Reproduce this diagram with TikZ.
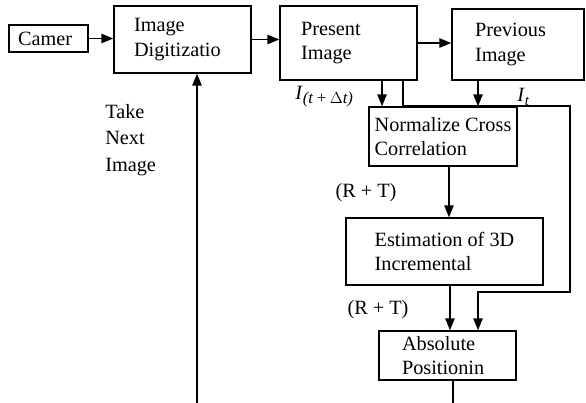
\documentclass[tikz,border=0pt]{standalone}
\usepackage{fontspec}
\setmainfont{Liberation Serif}
\usetikzlibrary{arrows.meta,calc}
\begin{document}
\begin{tikzpicture}[x=0.75pt,y=-0.75pt,
  font=\fontsize{15.2}{18.5}\selectfont,
  box/.style={draw,line width=1pt,align=left,inner ysep=1pt,inner xsep=0pt},
  arr/.style={line width=1.2pt,-{Triangle[length=9pt,width=7pt]}},
  ln/.style={line width=1.2pt},
  lbl/.style={inner sep=0pt,align=left}]
\useasboundingbox (0,0) rectangle (586,403);
% boxes
\node[box,minimum width=79*0.75pt,minimum height=27*0.75pt,text width=61*0.75pt] (cam) at (48.5,38.5) {Camer};
\node[box,minimum width=137*0.75pt,minimum height=67*0.75pt,text width=97*0.75pt] (dig) at (182.5,39.5) {Image\\Digitizatio};
\node[box,minimum width=137*0.75pt,minimum height=74*0.75pt,text width=95*0.75pt] (pres) at (348.5,43) {Present\\Image};
\node[box,minimum width=132*0.75pt,minimum height=71*0.75pt,text width=86*0.75pt] (prev) at (518,44.5) {Previous\\Image};
\node[box,minimum width=148*0.75pt,minimum height=59*0.75pt] (norm) at (443,136.5) {Normalize Cross\\Correlation};
\node[box,minimum width=197*0.75pt,minimum height=67*0.75pt] (est) at (444.5,251.5) {Estimation of 3D\\Incremental};
\node[box,minimum width=137*0.75pt,minimum height=49*0.75pt,text width=91*0.75pt] (abs) at (447.5,355.5) {Absolute\\Positionin};
% labels
\node[lbl,anchor=west,font=\fontsize{15.2}{19.9}\selectfont] (take) at (105,140) {Take\\Next\\Image};
\node[lbl,anchor=base west] (iptd) at (295,99) {\textit{I}\raisebox{-3pt}{\fontsize{12.5}{13}\selectfont\textit{(t\,+\,\(\Delta\)t)}}};
\node[lbl,anchor=base west] (it) at (517,102) {\textit{I}\raisebox{-3pt}{\fontsize{11}{12}\selectfont\textit{t}}};
\node[lbl] (rt1) at (366,193) {(R + T)};
\node[lbl] (rt2) at (378,310) {(R + T)};
% helper coordinates
\coordinate (xa) at (382,0);
\coordinate (xb) at (478,0);
\coordinate (xc) at (403,0);
\coordinate (k1) at (570,106);
\coordinate (k2) at (570,292);
\coordinate (xd) at (449,0);
\coordinate (xe) at (450,0);
\coordinate (b1) at (453,403);
\coordinate (b2) at (197,403);
% connectors
\draw[arr] (cam.east) -- (cam.east -| dig.west);
\draw[arr] (dig.east) -- (dig.east -| pres.west);
\draw[arr] (pres.east) -- (pres.east -| prev.west);
\draw[arr] (pres.south -| xa) -- (norm.north -| xa);
\draw[arr] (prev.south -| xb) -- (norm.north -| xb);
\draw[arr] (pres.south -| xc) |- (k1) -- (k2) -| (abs.north -| xb);
\draw[arr] (norm.south -| xd) -- (est.north -| xd);
\draw[arr] (est.south -| xe) -- (abs.north -| xe);
\draw[ln] (abs.south -| b1) -- (b1);
\draw[arr] (b2) -- (dig.south -| b2);
\end{tikzpicture}
\end{document}
